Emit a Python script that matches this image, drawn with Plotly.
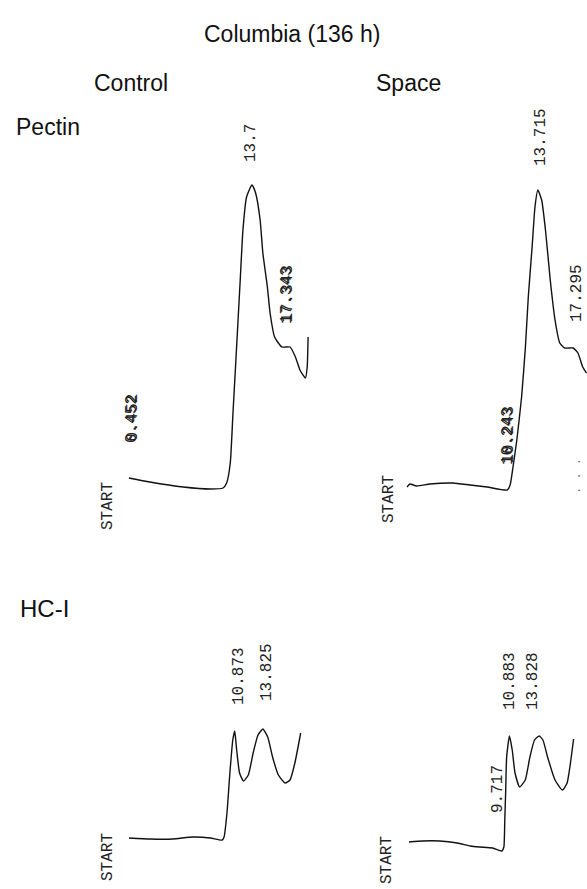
import plotly.graph_objects as go

W, H = 587, 889

# ---------------- data (retention time in min, detector signal in arbitrary units) -------------
ctrl_pectin_time = [0.1, 2.4, 6.1, 9.1, 10.5, 10.9, 11.3, 11.6, 12.0, 12.4, 12.7, 13.1, 13.7,
                    14.1, 14.6, 14.9, 15.4, 15.7, 16.2, 17.0, 17.9, 18.5, 19.0, 19.6, 19.8, 19.9]
ctrl_pectin_signal = [2, -2, -7, -9, -8, -3, 17, 67, 133, 200, 250, 283, 295,
                      287, 260, 227, 193, 167, 143, 133, 133, 123, 110, 102, 113, 143]

space_pectin_time = [0.0, 0.3, 1.0, 2.4, 4.8, 6.6, 8.4, 10.5, 10.8, 11.1, 11.5, 12.0, 12.4,
                     12.7, 13.1, 13.4, 13.7, 14.1, 14.5, 15.0, 15.5, 16.0, 16.5, 17.4, 17.9,
                     18.4, 18.8]
space_pectin_signal = [-2, 1, -1, 1, 2, 0, -2, -5, 0, 18, 45, 88, 138,
                       188, 238, 278, 295, 285, 255, 205, 165, 142, 137, 137, 132,
                       118, 112]

ctrl_hc_time = [0.0, 2.2, 4.5, 6.6, 8.4, 9.6, 9.8, 10.1, 10.4, 10.7, 10.9, 11.1, 11.4, 11.8,
                12.3, 12.8, 13.3, 13.8, 14.3, 14.8, 15.4, 16.1, 16.6, 17.1, 17.7]
ctrl_hc_signal = [0, -1, -1, 1, 0, -2, 1, 25, 65, 98, 107, 88, 65, 57,
                  63, 85, 103, 109, 101, 81, 63, 55, 58, 75, 105]

space_hc_time = [0.0, 1.5, 3.3, 5.2, 6.6, 7.6, 9.0, 10.0, 10.2, 10.3, 10.4, 10.5, 10.8, 11.1,
                 11.4, 11.9, 12.5, 13.0, 13.5, 14.0, 14.4, 14.9, 15.7, 16.5, 17.0, 17.3, 17.7]
space_hc_signal = [0, 1, 1, -1, -4, -5, -6, -9, -5, 22, 52, 85, 106, 92,
                   69, 55, 62, 85, 102, 106, 102, 85, 62, 52, 59, 75, 103]

ctrl_pectin_labels = ["13.7", "0.452", "17.343"]
space_pectin_labels = ["13.715", "17.295", "10.243"]
ctrl_hc_labels = ["10.873", "13.825"]
space_hc_labels = ["10.883", "13.828", "9.717"]

title_text = "Columbia (136 h)"
column_titles = ["Control", "Space"]
row_titles = ["Pectin", "HC-I"]

# ---------------- layout geometry (pixels) ----------------
# per panel: start pixel x, pixels per minute, baseline pixel y (signal 0), 1 unit = 1 px
panels = [
    dict(t=ctrl_pectin_time, s=ctrl_pectin_signal, x0=128, scale=9.05, y0=480),
    dict(t=space_pectin_time, s=space_pectin_signal, x0=407, scale=9.55, y0=485),
    dict(t=ctrl_hc_time, s=ctrl_hc_signal, x0=129, scale=9.7, y0=838),
    dict(t=space_hc_time, s=space_hc_signal, x0=409, scale=9.3, y0=842),
]

fig = go.Figure()
layout_axes = {}
for i, p in enumerate(panels, start=1):
    sfx = "" if i == 1 else str(i)
    fig.add_trace(go.Scatter(
        x=p["t"], y=p["s"], mode="lines",
        line=dict(color="#111", width=1.4, shape="spline", smoothing=0.5),
        xaxis="x" + sfx, yaxis="y" + sfx, showlegend=False, hoverinfo="skip"))
    xr = [-p["x0"] / p["scale"], (W - p["x0"]) / p["scale"]]
    yr = [p["y0"] - H, p["y0"]]
    layout_axes["xaxis" + sfx] = dict(domain=[0, 1], range=xr, visible=False,
                                      anchor="y" + sfx, fixedrange=True)
    layout_axes["yaxis" + sfx] = dict(domain=[0, 1], range=yr, visible=False,
                                      anchor="x" + sfx, fixedrange=True)

ann = []


def px(x):
    return x / W


def py(y):
    return 1 - y / H


def head(text, x, y, xanchor="center", size=23):
    ann.append(dict(text=text, x=px(x), y=py(y), xref="paper", yref="paper",
                    xanchor=xanchor, yanchor="middle", showarrow=False,
                    font=dict(family="Liberation Sans, Arial, sans-serif", size=size, color="#111")))


def vlab(text, x, y, bold=False, size=16, color="#222"):
    ann.append(dict(text=text, x=px(x), y=py(y), xref="paper", yref="paper",
                    xanchor="center", yanchor="middle", showarrow=False, textangle=-90,
                    font=dict(family="Liberation Mono, Courier New, monospace", size=size, color=color)))
    if bold:
        ann.append(dict(text=text, x=px(x + 0.8), y=py(y - 1.2), xref="paper", yref="paper",
                        xanchor="center", yanchor="middle", showarrow=False, textangle=-90,
                        font=dict(family="Liberation Mono, Courier New, monospace", size=size, color=color)))


head(title_text, 292, 34)
head(column_titles[0], 131, 83)
head(column_titles[1], 408, 83)
head(row_titles[0], 14, 127, xanchor="left")
head(row_titles[1], 18, 608, xanchor="left", size=24)

# control pectin
vlab(ctrl_pectin_labels[0], 251, 143)
vlab(ctrl_pectin_labels[1], 132, 419, bold=True)
vlab(ctrl_pectin_labels[2], 287, 295, bold=True)
vlab("START", 108, 506)
# space pectin
vlab(space_pectin_labels[0], 541, 137)
vlab(space_pectin_labels[1], 577, 293)
vlab(space_pectin_labels[2], 508, 436, bold=True)
vlab("START", 389, 499)
vlab(". . .", 577, 476, color="#777", size=12)
# control HC-I
vlab(ctrl_hc_labels[0], 239, 676)
vlab(ctrl_hc_labels[1], 267, 672)
vlab("START", 108, 857)
# space HC-I
vlab(space_hc_labels[0], 510, 681)
vlab(space_hc_labels[1], 533, 681)
vlab(space_hc_labels[2], 498, 789)
vlab("START", 387, 860)

fig.update_layout(
    width=W, height=H, autosize=False,
    margin=dict(l=0, r=0, t=0, b=0),
    paper_bgcolor="white", plot_bgcolor="rgba(0,0,0,0)",
    annotations=ann,
    **layout_axes,
)

fig.write_html("out.html", config={"displayModeBar": False},
               post_script="document.body.style.margin='0px';document.body.style.overflow='hidden';")
